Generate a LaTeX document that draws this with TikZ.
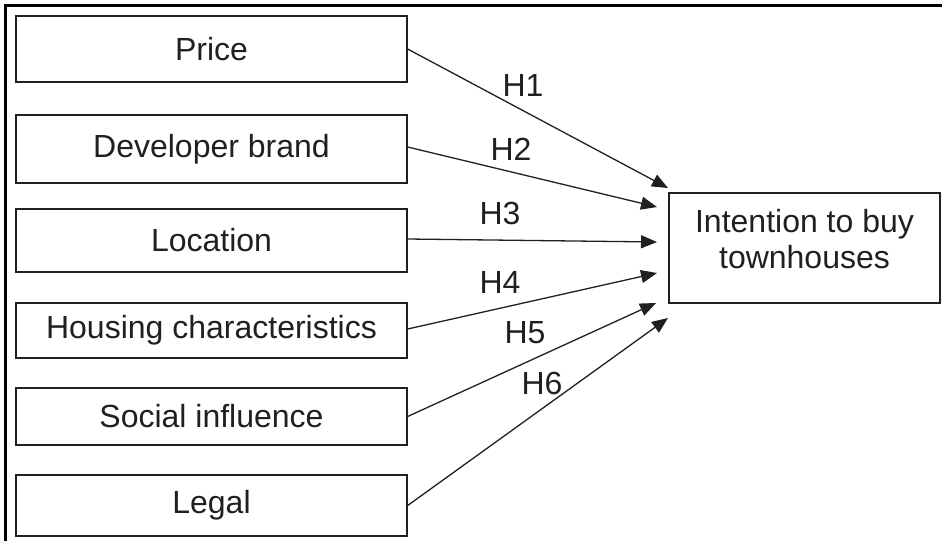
\documentclass[tikz,border=0pt]{standalone}
\usepackage{fontspec}
\setmainfont{Liberation Sans}
\usetikzlibrary{arrows.meta}
\definecolor{ink}{HTML}{202020}
\begin{document}
\begin{tikzpicture}[x=1pt,y=-1pt,
  every node/.style={font=\fontsize{32}{36}\selectfont, text=ink},
  factor/.style={draw=ink, line width=1.3pt, minimum width=391pt, inner sep=0pt, anchor=center},
  target/.style={draw=ink, line width=1.3pt, minimum width=271pt, minimum height=110pt, inner sep=0pt, align=center},
  link/.style={draw=ink, line width=1.3pt, -{Triangle[length=16pt,width=13pt]}},
  hlabel/.style={inner sep=0pt}
]
\useasboundingbox (0,0) rectangle (942,541);
% outer frame (top and left only)
\draw[line width=2.4pt, black] (5.5,541) -- (5.5,5.5) -- (942,5.5);

\node[factor, minimum height=66pt] (price) at (211.5,49) {Price};
\node[factor, minimum height=68pt] (dev)   at (211.5,149) {Developer brand};
\node[factor, minimum height=63pt] (loc)   at (211.5,240.5) {Location};
\node[factor, minimum height=55pt] (house) at (211.5,330.5) {Housing characteristics};
\node[factor, minimum height=57pt] (soc)   at (211.5,416.5) {Social influence};
\node[factor, minimum height=61pt] (legal) at (211.5,505.5) {Legal};

\node[target, text depth=18pt] (int) at (804.5,248) {Intention to buy\\townhouses};

\coordinate (t1) at (668,188);
\coordinate (t2) at (657,207);
\coordinate (t3) at (657,242);
\coordinate (t4) at (657,273);
\coordinate (t5) at (656,303);
\coordinate (t6) at (668,318);

\draw[link] (price.east) -- (t1);
\draw[link] ([yshift=2pt]dev.east) -- (t2);
\draw[link] ([yshift=1.5pt]loc.east) -- (t3);
\draw[link] ([yshift=1.5pt]house.east) -- (t4);
\draw[link] (soc.east) -- (t5);
\draw[link] (legal.east) -- (t6);

\node[hlabel] (h1) at (523,85) {H1};
\node[hlabel] (h2) at (511,149) {H2};
\node[hlabel] (h3) at (500,213) {H3};
\node[hlabel] (h4) at (500,282) {H4};
\node[hlabel] (h5) at (525,333) {H5};
\node[hlabel] (h6) at (542,383) {H6};
\end{tikzpicture}
\end{document}
